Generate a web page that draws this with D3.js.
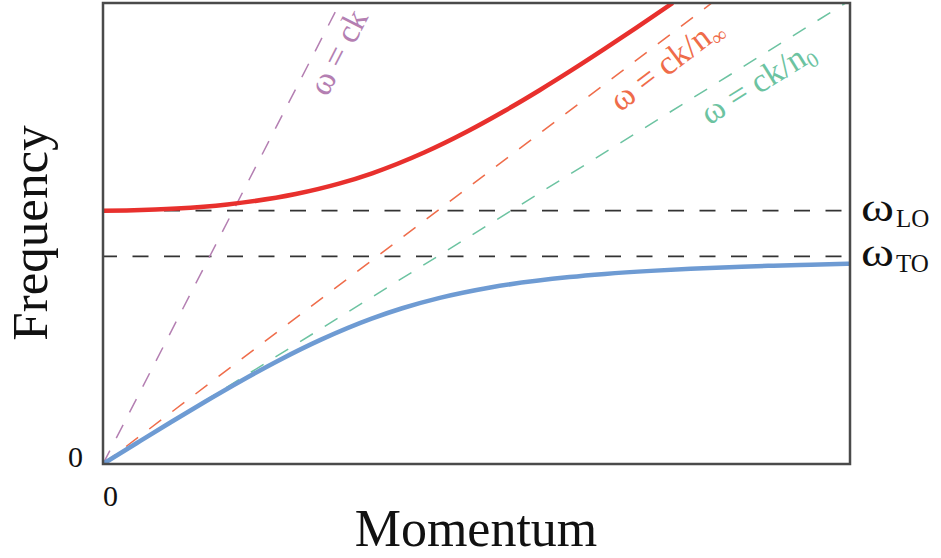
<!DOCTYPE html>
<html>
<head>
<meta charset="utf-8">
<script src="https://cdn.jsdelivr.net/npm/d3@7"></script>
<style>
  html, body { margin: 0; padding: 0; background: #fff; }
  svg { display: block; }
  text { font-family: "Liberation Serif", "DejaVu Serif", serif; }
</style>
</head>
<body>
<svg id="chart" width="941" height="558"></svg>
<script>
// Phonon-polariton dispersion: frequency (in units of ω_TO) against momentum ck/ω_TO.
const momentumDomain = [0, 7];
const frequencyDomain = [0, 2.22];

// Resonances
const levelNames = ["LO", "TO"];
const levelValues = [1.22, 1.0];

// Upper polariton branch (momentum, frequency)
const upperMomentum = [0, 0.221, 0.492, 0.691, 1.166, 1.806, 2.211, 2.522, 3.009, 3.408, 3.762, 4.091, 4.403, 4.703, 4.996, 5.339];
const upperFrequency = [1.22, 1.221, 1.225, 1.23, 1.25, 1.3, 1.35, 1.4, 1.5, 1.6, 1.7, 1.8, 1.9, 2.0, 2.1, 2.22];

// Lower polariton branch (momentum, frequency)
const lowerMomentum = [0, 0.314, 0.631, 0.956, 1.293, 1.651, 2.048, 2.517, 2.804, 3.156, 3.629, 4.371, 4.703, 5.135, 5.507, 5.985, 6.282, 6.634, 7.059];
const lowerFrequency = [0, 0.1, 0.2, 0.3, 0.4, 0.5, 0.6, 0.7, 0.75, 0.8, 0.85, 0.9, 0.915, 0.93, 0.94, 0.95, 0.955, 0.96, 0.965];

// Light lines ω = ck/n, from the origin to where they meet the top edge
const lightEndMomentum = [2.22, 5.705, 6.96];
const lightEndFrequency = [2.22, 2.22, 2.22];
const lightLabelMain = ["ω = ck", "ω = ck/n", "ω = ck/n"];
const lightLabelSub = ["", "∞", "0"];
const lightLabelAt = [2.03, 5.16, 6.03];
const lightColors = ["#b47fb2", "#ef6c4a", "#6cc3a1"];

// Axis tick labels
const momentumTicks = [0];
const frequencyTicks = [0];

const svg = d3.select("#chart");
const plotLeft = 103, plotRight = 850, plotTop = 3, plotBottom = 464;

const x = d3.scaleLinear().domain(momentumDomain).range([plotLeft, plotRight]);
const y = d3.scaleLinear().domain(frequencyDomain).range([plotBottom, plotTop]);

svg.append("defs").append("clipPath").attr("id", "plot")
  .append("rect").attr("x", plotLeft).attr("y", plotTop)
  .attr("width", plotRight - plotLeft).attr("height", plotBottom - plotTop);

const plot = svg.append("g").attr("clip-path", "url(#plot)");
const line = d3.line().x(d => x(d[0])).y(d => y(d[1]));

// Horizontal resonance lines
plot.selectAll(".level").data(levelValues).join("line")
  .attr("class", "level")
  .attr("x1", x(momentumDomain[0])).attr("x2", x(momentumDomain[1]))
  .attr("y1", d => y(d)).attr("y2", d => y(d))
  .attr("stroke", "#333").attr("stroke-width", 1.6)
  .attr("stroke-dasharray", "16,15.5").attr("stroke-dashoffset", 2);

// Light lines
lightEndMomentum.forEach((k, i) => {
  plot.append("path")
    .attr("d", line([[0, 0], [k, lightEndFrequency[i]]]))
    .attr("fill", "none").attr("stroke", lightColors[i])
    .attr("stroke-width", 1.5).attr("stroke-dasharray", "15,14");
});

// Polariton branches
const curve = d3.line().x(d => x(d[0])).y(d => y(d[1])).curve(d3.curveMonotoneX);
plot.append("path")
  .attr("d", curve(upperMomentum.map((k, i) => [k, upperFrequency[i]])))
  .attr("fill", "none").attr("stroke", "#e8302d").attr("stroke-width", 4.5);
plot.append("path")
  .attr("d", curve(lowerMomentum.map((k, i) => [k, lowerFrequency[i]])))
  .attr("fill", "none").attr("stroke", "#6e9bd3").attr("stroke-width", 4.5);

// Frame
svg.append("rect").attr("x", plotLeft).attr("y", plotTop)
  .attr("width", plotRight - plotLeft).attr("height", plotBottom - plotTop)
  .attr("fill", "none").attr("stroke", "#4a4a4a").attr("stroke-width", 2.5);

// Light-line labels, set along each line
lightEndMomentum.forEach((k, i) => {
  const w = lightEndFrequency[i];
  const px0 = x(0), py0 = y(0), px1 = x(k), py1 = y(w);
  const ang = Math.atan2(py1 - py0, px1 - px0) * 180 / Math.PI;
  const t = lightLabelAt[i] / k;
  const cx = px0 + (px1 - px0) * t, cy = py0 + (py1 - py0) * t;
  const txt = svg.append("text")
    .attr("transform", `translate(${cx},${cy}) rotate(${ang})`)
    .attr("x", 0).attr("y", 32)
    .attr("text-anchor", "middle")
    .attr("font-size", 34)
    .attr("fill", lightColors[i]);
  txt.append("tspan").text(lightLabelMain[i]);
  if (lightLabelSub[i]) {
    txt.append("tspan").attr("font-size", 21).attr("dy", 6).text(lightLabelSub[i]);
  }
});

// Resonance labels at the right: a wide ω with its subscript
levelValues.forEach((v, i) => {
  svg.append("text")
    .attr("x", 861).attr("y", y(v) + 10)
    .attr("font-size", 39).attr("fill", "#111")
    .attr("textLength", 33).attr("lengthAdjust", "spacingAndGlyphs")
    .text("ω");
  svg.append("text")
    .attr("x", 896).attr("y", y(v) + 16)
    .attr("font-size", 25).attr("fill", "#111")
    .text(levelNames[i]);
});

// Axes: only the zero labels are shown
const xAxis = svg.append("g").attr("transform", `translate(0,${plotBottom})`)
  .call(d3.axisBottom(x).tickValues(momentumTicks).tickSize(0).tickPadding(0).tickFormat(d3.format("d")));
xAxis.select(".domain").remove();
xAxis.selectAll("text").attr("font-family", "Liberation Serif, serif").attr("font-size", 30)
  .attr("fill", "#111").attr("dy", null).attr("y", 42).attr("x", 7);

const yAxis = svg.append("g").attr("transform", `translate(${plotLeft},0)`)
  .call(d3.axisLeft(y).tickValues(frequencyTicks).tickSize(0).tickPadding(0).tickFormat(d3.format("d")));
yAxis.select(".domain").remove();
yAxis.selectAll("text").attr("font-family", "Liberation Serif, serif").attr("font-size", 30)
  .attr("fill", "#111").attr("dy", null).attr("x", -20).attr("y", 2);

// Axis titles
svg.append("text").attr("x", 476).attr("y", 546)
  .attr("text-anchor", "middle").attr("font-size", 52).attr("fill", "#111")
  .text("Momentum");
svg.append("text").attr("transform", "translate(47,233) rotate(-90)")
  .attr("text-anchor", "middle").attr("font-size", 51).attr("fill", "#111")
  .text("Frequency");
</script>
</body>
</html>
